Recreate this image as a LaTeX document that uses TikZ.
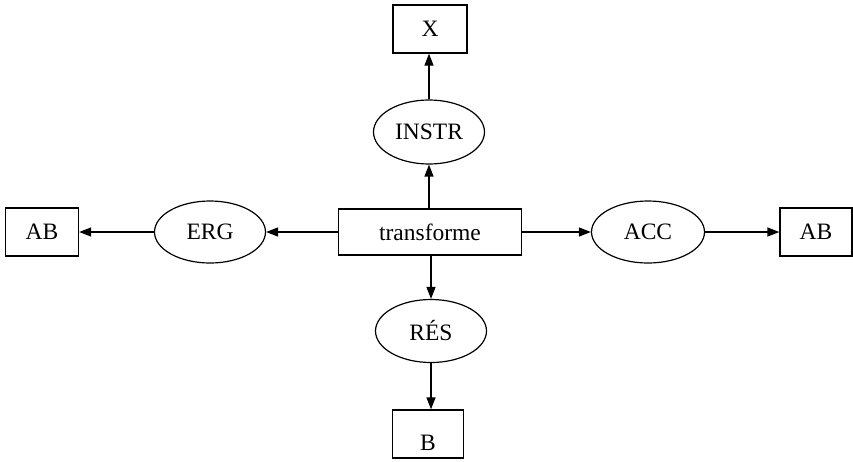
\documentclass[tikz,border=0pt]{standalone}
\usepackage{fontspec}
\setmainfont{Liberation Serif}
\usetikzlibrary{arrows.meta,shapes.geometric}
\begin{document}
\begin{tikzpicture}[x=1pt,y=-1pt,
  every node/.style={font=\fontsize{23.5}{27}\selectfont, inner sep=0pt},
  boxnode/.style={draw, line width=1.3pt, rectangle, minimum width=#1, minimum height=48pt},
  ellnode/.style={draw, line width=1.2pt, ellipse, minimum width=111pt, minimum height=62pt},
  conn/.style={line width=1.3pt, -{Triangle[length=12pt,width=9pt]}}]
\useasboundingbox (0,0) rectangle (853,461);
\node[boxnode=74pt] (x) at (430,29) {X};
\node[ellnode, minimum height=64pt] (instr) at (429,132) {INSTR};
\node[boxnode=183pt, minimum height=46pt] (t) at (430,232) {transforme};
\node[ellnode] (erg) at (210,232) {ERG};
\node[boxnode=73pt] (abl) at (42,232) {AB};
\node[ellnode, minimum width=113pt] (acc) at (648,232) {ACC};
\node[boxnode=72pt] (abr) at (816,232) {AB};
\node[ellnode, minimum height=63pt] (res) at (431,331) {RÉS};
\node[boxnode=71pt] (b) at (428,434) {};
\node (blabel) at (428,443) {B};
\draw[conn] (t.north -| instr.south) -- (instr.south);
\draw[conn] (instr.north) -- (instr.north |- x.south);
\draw[conn] (t.west) -- (erg.east);
\draw[conn] (erg.west) -- (abl.east);
\draw[conn] (t.east) -- (acc.west);
\draw[conn] (acc.east) -- (abr.west);
\draw[conn] (t.south -| res.north) -- (res.north);
\draw[conn] (res.south) -- (res.south |- b.north);
\end{tikzpicture}
\end{document}
